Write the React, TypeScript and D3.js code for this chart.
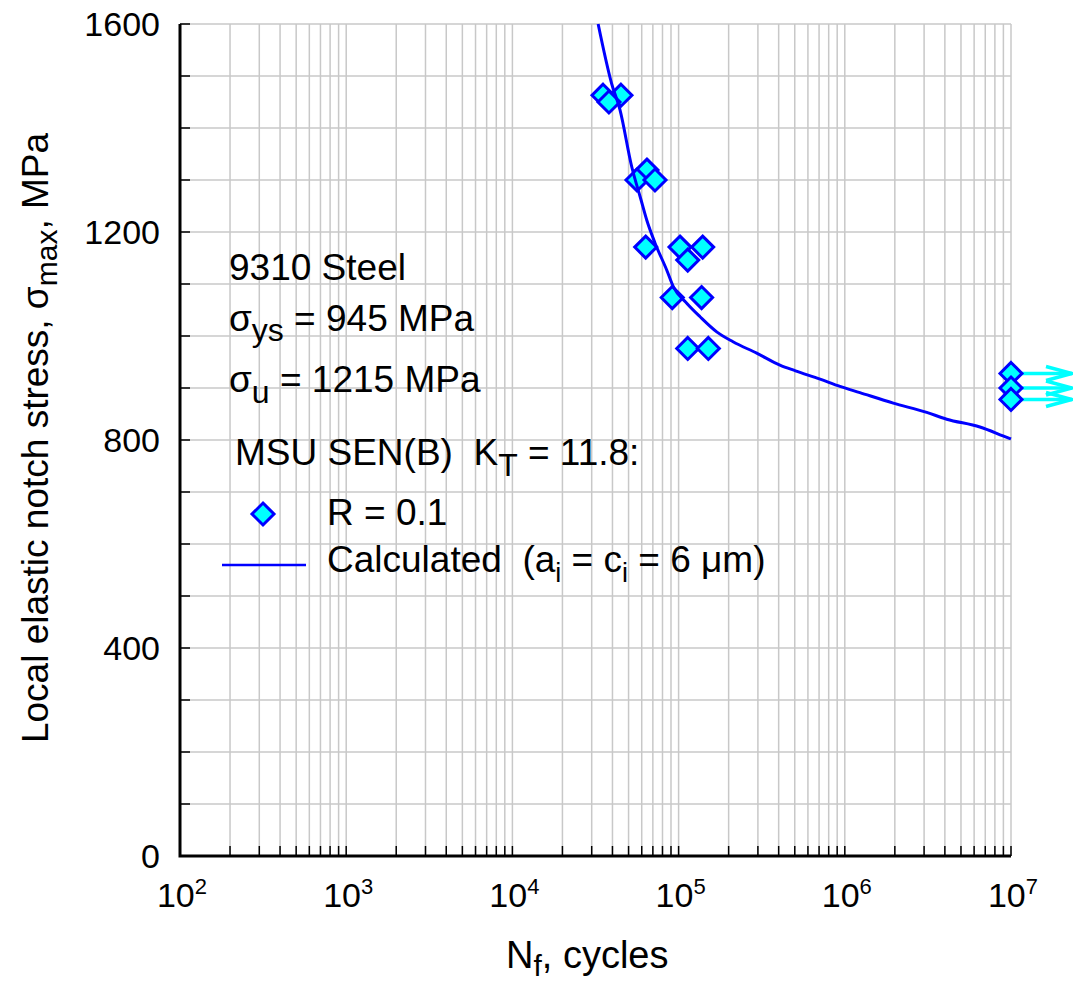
import React from "react";
import * as d3 from "d3";

// ---- data ----
const xDecades = [1e2, 1e3, 1e4, 1e5, 1e6, 1e7];
const xExponents = ["2", "3", "4", "5", "6", "7"];
const yTicks = [0, 400, 800, 1200, 1600];

const failN = [35100, 45000, 38100, 64500, 56200, 72100, 63400, 102000, 139600, 113500, 91600, 137500, 113500, 151000];
const failS = [1463, 1463, 1450, 1319, 1300, 1300, 1171, 1171, 1171, 1146, 1074, 1074, 976, 976];

const runoutN = [1e7, 1e7, 1e7];
const runoutS = [928, 900, 878];

const calcN = [32800, 39500, 44400, 52200, 59400, 64300, 72100, 84800, 92900, 111900, 134600, 169500, 212500, 295000, 407000, 505000, 710000, 935000, 1233000, 1958000, 3111000, 4103000, 6500000, 8950000, 10000000];
const calcS = [1600, 1486, 1435, 1326, 1262, 1223, 1179, 1127, 1095, 1063, 1037, 1008, 989, 967, 944, 933, 917, 903, 891, 871, 853, 840, 825, 808, 802];

// ---- layout ----
const W = 1073;
const H = 985;
const X0 = 180, X1 = 1011, Y0 = 856, Y1 = 24;
const FONT = "'Liberation Sans', Arial, sans-serif";
const FS = 34;
const LFS = 37;

export default function App() {
  const x = d3.scaleLog().domain([1e2, 1e7]).range([X0, X1]);
  const y = d3.scaleLinear().domain([0, 1600]).range([Y0, Y1]);

  const xGrid: number[] = [];
  for (let e = 2; e < 7; e++) for (let m = 1; m < 10; m++) xGrid.push(m * Math.pow(10, e));
  xGrid.push(1e7);
  const yGrid = d3.range(0, 1601, 100);

  const line = d3
    .line<number>()
    .x((_, i) => x(calcN[i]))
    .y((_, i) => y(calcS[i]))
    .curve(d3.curveMonotoneX);

  const diamond = (cx: number, cy: number, r: number) =>
    `M${cx},${cy - r}L${cx + r},${cy}L${cx},${cy + r}L${cx - r},${cy}Z`;

  return (
    <svg
      width={W}
      height={H}
      style={{ position: "absolute", left: 0, top: 0, background: "#fff" }}
      fontFamily={FONT}
    >
      {/* grid */}
      <g stroke="#c8c8c8" strokeWidth={1.5}>
        {xGrid.map((v, i) => (
          <line key={"gx" + i} x1={x(v)} x2={x(v)} y1={Y1} y2={Y0} />
        ))}
        {yGrid.map((v, i) => (
          <line key={"gy" + i} x1={X0} x2={X1} y1={y(v)} y2={y(v)} />
        ))}
      </g>

      {/* ticks */}
      <g stroke="#000" strokeWidth={1.5}>
        {xGrid.map((v, i) => (
          <line key={"tx" + i} x1={x(v)} x2={x(v)} y1={Y0} y2={Y0 - 10} />
        ))}
        {yGrid.map((v, i) => (
          <line key={"ty" + i} x1={X0} x2={X0 + 10} y1={y(v)} y2={y(v)} />
        ))}
      </g>

      {/* axes */}
      <path d={`M${X0},${Y1}V${Y0}H${X1}`} fill="none" stroke="#000" strokeWidth={3} />

      {/* y tick labels */}
      {yTicks.map((v) => (
        <text key={"yl" + v} x={160} y={y(v)} dy="0.36em" textAnchor="end" fontSize={FS} fill="#000">
          {v}
        </text>
      ))}

      {/* x tick labels */}
      {xDecades.map((v, i) => (
        <text key={"xl" + i} x={x(v) + 2} y={907} textAnchor="middle" fontSize={FS} fill="#000">
          10
          <tspan fontSize={22} dy={-13}>
            {xExponents[i]}
          </tspan>
        </text>
      ))}

      {/* axis titles */}
      <text x={506} y={968} fontSize={38} fill="#000">
        N
        <tspan fontSize={30} dy={8}>f</tspan>
        <tspan dy={-8}>, cycles</tspan>
      </text>
      <text
        transform={`translate(48,${(Y0 + Y1) / 2 - 2}) rotate(-90)`}
        textAnchor="middle"
        fontSize={37}
        fill="#000"
      >
        Local elastic notch stress, σ
        <tspan fontSize={30} dy={9}>max</tspan>
        <tspan dy={-9}>, MPa</tspan>
      </text>

      {/* data points */}
      <g fill="#00ffff" stroke="#0000ff" strokeWidth={3} strokeLinejoin="miter">
        {failN.map((n, i) => (
          <path key={"f" + i} d={diamond(x(n), y(failS[i]), 11)} />
        ))}
      </g>

      {/* calculated curve */}
      <path d={line(calcN) || ""} fill="none" stroke="#0000ff" strokeWidth={3} />

      {/* runouts with arrows */}
      <g>
        {runoutN.map((n, i) => {
          const cx = x(n);
          const cy = y(runoutS[i]);
          const tip = cx + 61;
          return (
            <g key={"ra" + i} stroke="#00ffff" strokeWidth={3.5} fill="none">
              <line x1={cx + 10} x2={tip} y1={cy} y2={cy} />
              <path d={`M${tip - 26},${cy - 7}L${tip},${cy}L${tip - 26},${cy + 7}`} />
            </g>
          );
        })}
        {runoutN.map((n, i) => (
          <path
            key={"r" + i}
            d={diamond(x(n), y(runoutS[i]), 11)}
            fill="#00ffff"
            stroke="#0000ff"
            strokeWidth={3}
          />
        ))}
      </g>

      {/* annotations / legend */}
      <g fontSize={LFS} fill="#000">
        <text x={229} y={280}>9310 Steel</text>
        <text x={229} y={331}>
          σ<tspan fontSize={32} dy={10}>ys</tspan>
          <tspan dy={-10}> = 945 MPa</tspan>
        </text>
        <text x={229} y={392}>
          σ<tspan fontSize={32} dy={11}>u</tspan>
          <tspan dy={-11}> = 1215 MPa</tspan>
        </text>
        <text x={235} y={465} xmlSpace="preserve">
          {"MSU SEN(B)  K"}
          <tspan fontSize={32} dy={11}>T</tspan>
          <tspan dy={-11}>{" = 11.8:"}</tspan>
        </text>
        <path d={diamond(263, 514, 11)} fill="#00ffff" stroke="#0000ff" strokeWidth={3} />
        <text x={327} y={525}>R = 0.1</text>
        <line x1={222} x2={306} y1={565} y2={565} stroke="#0000ff" strokeWidth={2.5} />
        <text x={327} y={572} xmlSpace="preserve">
          {"Calculated  (a"}
          <tspan fontSize={27} dy={10}>i</tspan>
          <tspan dy={-10}>{" = c"}</tspan>
          <tspan fontSize={27} dy={10}>i</tspan>
          <tspan dy={-10}>{" = 6 μm)"}</tspan>
        </text>
      </g>
    </svg>
  );
}
